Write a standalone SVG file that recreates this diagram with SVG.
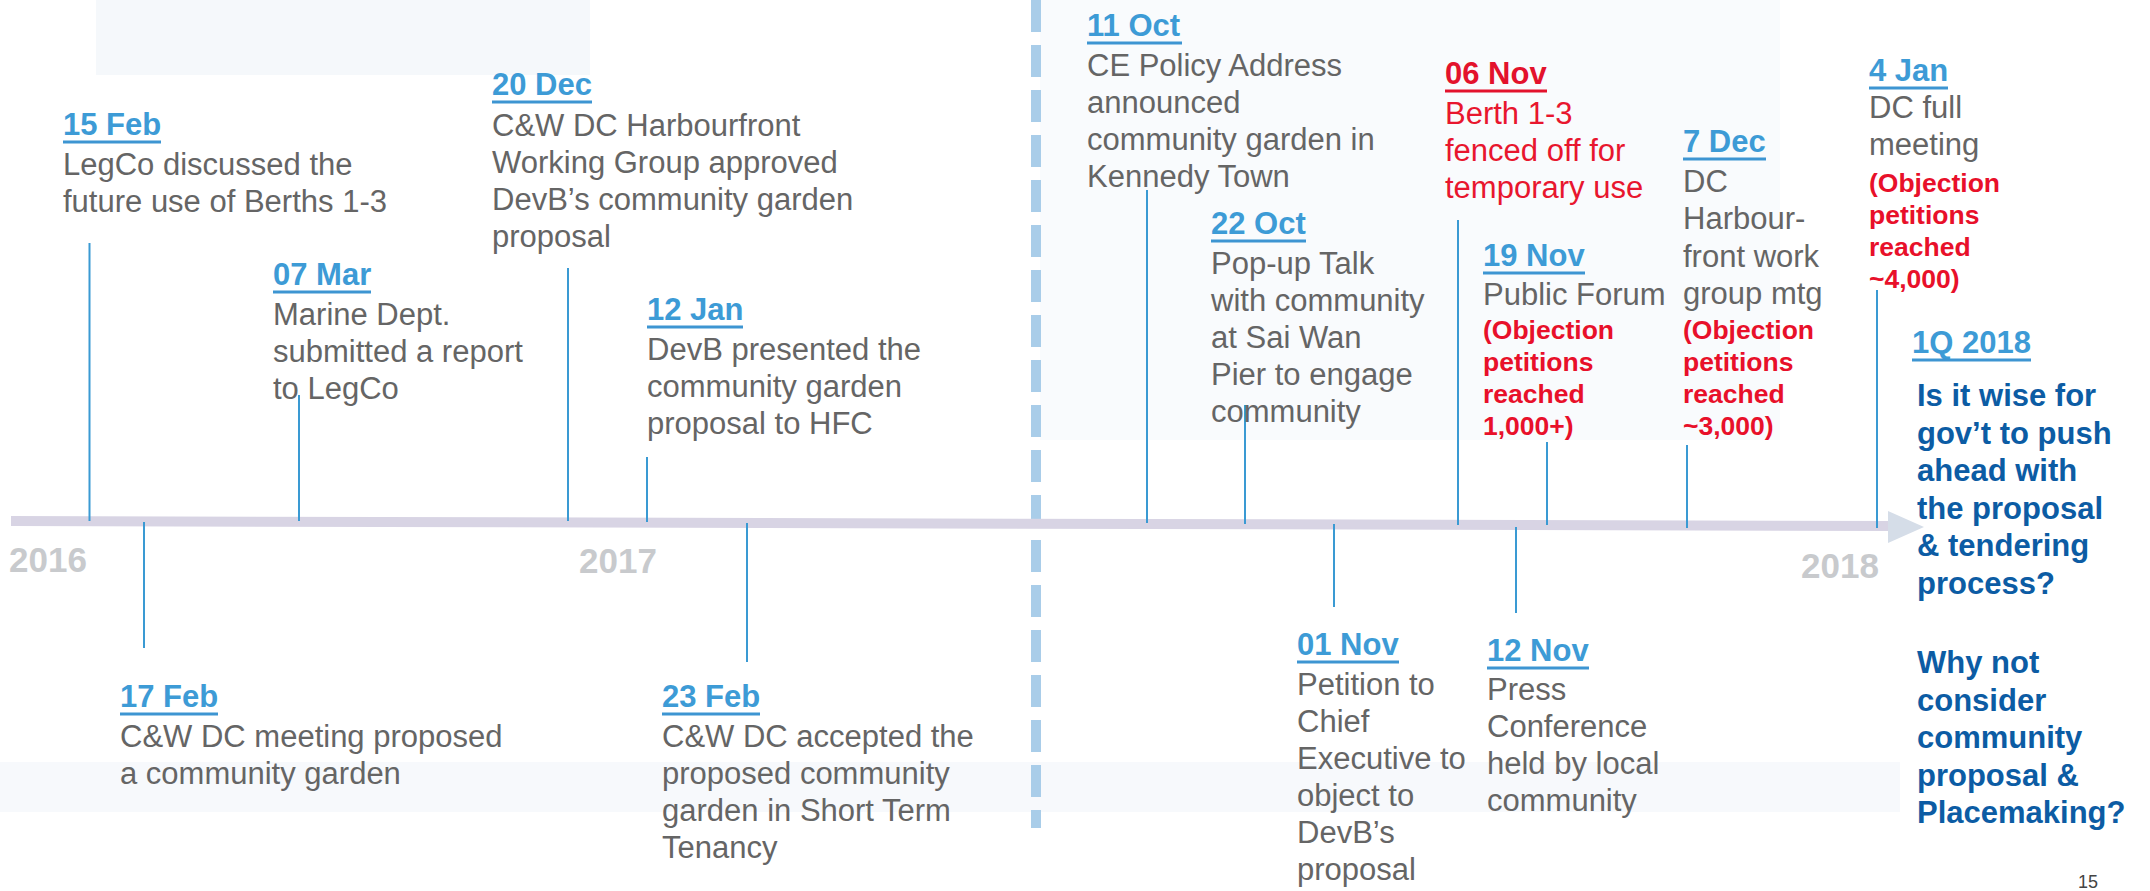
<svg xmlns="http://www.w3.org/2000/svg" width="2150" height="891" viewBox="0 0 2150 891">
<style>
text{font-family:"Liberation Sans",Arial,sans-serif}
.d{font-weight:bold;font-size:31px;fill:#3d9bd6}
.dr{font-weight:bold;font-size:31px;fill:#e3122c}
.b{font-size:31px;fill:#656565}
.r{font-size:31px;fill:#e8162e}
.rb{font-weight:bold;font-size:26.5px;fill:#e8102a}
.q{font-weight:bold;font-size:31px;fill:#0c5ca4}
.y{font-weight:bold;font-size:35px;fill:#c8cacd}
.u{stroke:#3d95d2;stroke-width:3}
.ur{stroke:#e3122c;stroke-width:3}
.ev{stroke:#3a9ad3;stroke-width:2;fill:none}
</style>
<rect width="2150" height="891" fill="#ffffff"/>
<g id="background">
<rect x="96" y="0" width="494" height="75" fill="#f5f8fb"/>
<rect x="1040" y="0" width="740" height="440" fill="#f9fbfd"/>
<rect x="0" y="762" width="1900" height="50" fill="#f7f9fc"/>
</g>
<g id="separator">
<line x1="1036" y1="0" x2="1036" y2="828" stroke="#a9cde9" stroke-width="10" stroke-dasharray="32 13"/>
</g>
<g id="timeline">
<polygon points="11,516 1890,521 1890,531 11,526" fill="#d8d4e4"/>
<polygon points="1888,511 1924,527 1888,543" fill="#d5dde8"/>
<text class="y" x="9" y="572">2016</text>
<text class="y" x="579" y="573">2017</text>
<text class="y" x="1801" y="578">2018</text>
</g>
<g id="connectors">
<line class="ev" x1="89.5" y1="243" x2="89.5" y2="521"/>
<line class="ev" x1="299" y1="395" x2="299" y2="521"/>
<line class="ev" x1="568" y1="268" x2="568" y2="521"/>
<line class="ev" x1="647" y1="457" x2="647" y2="522"/>
<line class="ev" x1="144" y1="522" x2="144" y2="648"/>
<line class="ev" x1="747" y1="523" x2="747" y2="662"/>
<line class="ev" x1="1147" y1="190" x2="1147" y2="523"/>
<line class="ev" x1="1245" y1="405" x2="1245" y2="524"/>
<line class="ev" x1="1334" y1="524" x2="1334" y2="607"/>
<line class="ev" x1="1458" y1="220" x2="1458" y2="525"/>
<line class="ev" x1="1516" y1="527" x2="1516" y2="613"/>
<line class="ev" x1="1547" y1="442" x2="1547" y2="525"/>
<line class="ev" x1="1687" y1="445" x2="1687" y2="528"/>
<line class="ev" x1="1877" y1="290" x2="1877" y2="528"/>
</g>
<g id="e-15feb">
<text class="d" x="63" y="135">15 Feb</text>
<line class="u" x1="63" y1="142" x2="161" y2="142"/>
<text class="b"><tspan x="63" y="175">LegCo discussed the</tspan><tspan x="63" y="212">future use of Berths 1-3</tspan></text>
</g>
<g id="e-07mar">
<text class="d" x="273" y="285">07 Mar</text>
<line class="u" x1="273" y1="292" x2="371" y2="292"/>
<text class="b"><tspan x="273" y="325">Marine Dept.</tspan><tspan x="273" y="362">submitted a report</tspan><tspan x="273" y="399">to LegCo</tspan></text>
</g>
<g id="e-20dec">
<text class="d" x="492" y="95">20 Dec</text>
<line class="u" x1="492" y1="102" x2="592" y2="102"/>
<text class="b"><tspan x="492" y="136">C&amp;W DC Harbourfront</tspan><tspan x="492" y="173">Working Group approved</tspan><tspan x="492" y="210">DevB’s community garden</tspan><tspan x="492" y="247">proposal</tspan></text>
</g>
<g id="e-12jan">
<text class="d" x="647" y="320">12 Jan</text>
<line class="u" x1="647" y1="327" x2="743" y2="327"/>
<text class="b"><tspan x="647" y="360">DevB presented the</tspan><tspan x="647" y="397">community garden</tspan><tspan x="647" y="434">proposal to HFC</tspan></text>
</g>
<g id="e-17feb">
<text class="d" x="120" y="707">17 Feb</text>
<line class="u" x1="120" y1="714" x2="218" y2="714"/>
<text class="b"><tspan x="120" y="747">C&amp;W DC meeting proposed</tspan><tspan x="120" y="784">a community garden</tspan></text>
</g>
<g id="e-23feb">
<text class="d" x="662" y="707">23 Feb</text>
<line class="u" x1="662" y1="714" x2="760" y2="714"/>
<text class="b"><tspan x="662" y="747">C&amp;W DC accepted the</tspan><tspan x="662" y="784">proposed community</tspan><tspan x="662" y="821">garden in Short Term</tspan><tspan x="662" y="858">Tenancy</tspan></text>
</g>
<g id="e-11oct">
<text class="d" x="1087" y="36">11 Oct</text>
<line class="u" x1="1087" y1="43" x2="1182" y2="43"/>
<text class="b"><tspan x="1087" y="76">CE Policy Address</tspan><tspan x="1087" y="113">announced</tspan><tspan x="1087" y="150">community garden in</tspan><tspan x="1087" y="187">Kennedy Town</tspan></text>
</g>
<g id="e-22oct">
<text class="d" x="1211" y="234">22 Oct</text>
<line class="u" x1="1211" y1="241" x2="1306" y2="241"/>
<text class="b"><tspan x="1211" y="274">Pop-up Talk</tspan><tspan x="1211" y="311">with community</tspan><tspan x="1211" y="348">at Sai Wan</tspan><tspan x="1211" y="385">Pier to engage</tspan><tspan x="1211" y="422">community</tspan></text>
</g>
<g id="e-01nov">
<text class="d" x="1297" y="655">01 Nov</text>
<line class="u" x1="1297" y1="662" x2="1399" y2="662"/>
<text class="b"><tspan x="1297" y="695">Petition to</tspan><tspan x="1297" y="732">Chief</tspan><tspan x="1297" y="769">Executive to</tspan><tspan x="1297" y="806">object to</tspan><tspan x="1297" y="843">DevB’s</tspan><tspan x="1297" y="880">proposal</tspan></text>
</g>
<g id="e-12nov">
<text class="d" x="1487" y="661">12 Nov</text>
<line class="u" x1="1487" y1="668" x2="1589" y2="668"/>
<text class="b"><tspan x="1487" y="700">Press</tspan><tspan x="1487" y="737">Conference</tspan><tspan x="1487" y="774">held by local</tspan><tspan x="1487" y="811">community</tspan></text>
</g>
<g id="e-06nov">
<text class="dr" x="1445" y="84">06 Nov</text>
<line class="ur" x1="1445" y1="91" x2="1547" y2="91"/>
<text class="r"><tspan x="1445" y="124">Berth 1-3</tspan><tspan x="1445" y="161">fenced off for</tspan><tspan x="1445" y="198">temporary use</tspan></text>
</g>
<g id="e-19nov">
<text class="d" x="1483" y="266">19 Nov</text>
<line class="u" x1="1483" y1="273" x2="1585" y2="273"/>
<text class="b" x="1483" y="305">Public Forum</text>
<text class="rb"><tspan x="1483" y="339">(Objection</tspan><tspan x="1483" y="371">petitions</tspan><tspan x="1483" y="403">reached</tspan><tspan x="1483" y="435">1,000+)</tspan></text>
</g>
<g id="e-07dec">
<text class="d" x="1683" y="152">7 Dec</text>
<line class="u" x1="1683" y1="159" x2="1766" y2="159"/>
<text class="b"><tspan x="1683" y="192">DC</tspan><tspan x="1683" y="229">Harbour-</tspan><tspan x="1683" y="267">front work</tspan><tspan x="1683" y="304">group mtg</tspan></text>
<text class="rb"><tspan x="1683" y="339">(Objection</tspan><tspan x="1683" y="371">petitions</tspan><tspan x="1683" y="403">reached</tspan><tspan x="1683" y="435">~3,000)</tspan></text>
</g>
<g id="e-04jan">
<text class="d" x="1869" y="81">4 Jan</text>
<line class="u" x1="1869" y1="88" x2="1948" y2="88"/>
<text class="b"><tspan x="1869" y="118">DC full</tspan><tspan x="1869" y="155">meeting</tspan></text>
<text class="rb"><tspan x="1869" y="192">(Objection</tspan><tspan x="1869" y="224">petitions</tspan><tspan x="1869" y="256">reached</tspan><tspan x="1869" y="288">~4,000)</tspan></text>
</g>
<g id="e-1q2018">
<text class="d" x="1912" y="353">1Q 2018</text>
<line class="u" x1="1912" y1="360" x2="2031" y2="360"/>
<text class="q"><tspan x="1917" y="406">Is it wise for</tspan><tspan x="1917" y="443.5">gov’t to push</tspan><tspan x="1917" y="481">ahead with</tspan><tspan x="1917" y="518.5">the proposal</tspan><tspan x="1917" y="556">&amp; tendering</tspan><tspan x="1917" y="593.5">process?</tspan><tspan x="1917" y="673">Why not</tspan><tspan x="1917" y="710.5">consider</tspan><tspan x="1917" y="748">community</tspan><tspan x="1917" y="785.5">proposal &amp;</tspan><tspan x="1917" y="823">Placemaking?</tspan></text>
</g>
<text x="2078" y="888" font-size="18" fill="#444444">15</text>
</svg>
